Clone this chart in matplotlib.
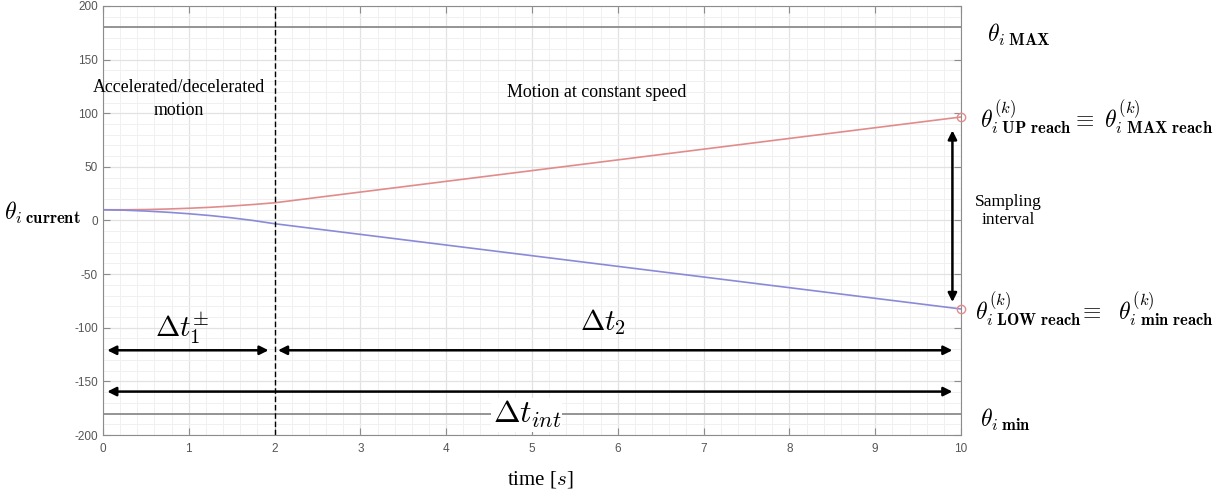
import numpy as np
import matplotlib.pyplot as plt
from matplotlib.ticker import MultipleLocator

plt.rcParams['mathtext.fontset'] = 'cm'
plt.rcParams['axes.unicode_minus'] = False

# joint trajectories (time in s, angle in deg)
t_pts = [0, 0.25, 0.5, 0.75, 1.0, 1.25, 1.5, 1.75, 2.0, 10.0]
theta_up = [10, 10.0, 10.2, 10.7, 11.4, 12.3, 13.5, 14.9, 16.5, 96.5]
theta_low = [10, 9.6, 8.8, 7.7, 6.3, 4.6, 2.5, 0.0, -3.0, -82.5]

theta_max = 180
theta_min = -180
t_switch = 2
t_end = 10

fig = plt.figure(figsize=(12.14, 4.97), dpi=100)
ax = fig.add_axes([0.0848, 0.1247, 0.7068, 0.8633])

ax.plot(t_pts, theta_up, color='#e08c8c', lw=1.2)
ax.plot(t_pts, theta_low, color='#8a8ad8', lw=1.2)
ax.plot([t_end, t_end], [theta_up[-1], theta_low[-1]], 'o', ms=6,
        mfc='none', mec='#e08c8c', mew=1.0, clip_on=False, zorder=5)

ax.axhline(theta_max, color='#8c8c8c', lw=1.3)
ax.axhline(theta_min, color='#8c8c8c', lw=1.3)
ax.axvline(t_switch, color='black', lw=1.0, ls=(0, (4, 2)))

ax.set_xlim(0, 10)
ax.set_ylim(-200, 200)
ax.xaxis.set_major_locator(MultipleLocator(1))
ax.xaxis.set_minor_locator(MultipleLocator(0.2))
ax.yaxis.set_major_locator(MultipleLocator(50))
ax.yaxis.set_minor_locator(MultipleLocator(10))
ax.grid(which='major', color='#e2e2e2', lw=0.9)
ax.grid(which='minor', color='#f0f0f0', lw=0.7)
ax.set_axisbelow(True)
ax.tick_params(which='major', direction='in', length=5, color='#8c8c8c',
               top=True, right=True, labelsize=8.5, labelcolor='#555555')
ax.tick_params(which='minor', length=0)
for lab in ax.get_xticklabels() + ax.get_yticklabels():
    lab.set_family('Liberation Sans')
for s in ax.spines.values():
    s.set_color('#8c8c8c')
ax.tick_params(axis='x', pad=6)

# interval arrows
arw = dict(arrowstyle='<|-|>', color='black', lw=1.8, mutation_scale=13,
           shrinkA=0, shrinkB=0)
ax.annotate('', xy=(0.05, -121), xytext=(1.93, -121), arrowprops=arw)
ax.annotate('', xy=(2.04, -121), xytext=(9.9, -121), arrowprops=arw)
ax.annotate('', xy=(0.05, -159.5), xytext=(9.9, -159.5), arrowprops=arw)
ax.annotate('', xy=(9.9, 84), xytext=(9.9, -76), arrowprops=arw,
            annotation_clip=False)

serif = 'Liberation Serif'
ax.text(0.88, 124, 'Accelerated/decelerated', ha='center', va='center',
        family=serif, fontsize=12.9)
ax.text(0.88, 103, 'motion', ha='center', va='center',
        family=serif, fontsize=12.9)
ax.text(5.76, 119, 'Motion at constant speed', ha='center', va='center',
        family=serif, fontsize=12.9)
ax.text(0.93, -100, r'$\Delta t_1^{\pm}$', ha='center', va='center', fontsize=21)
ax.text(5.83, -95, r'$\Delta t_2$', ha='center', va='center', fontsize=21)
ax.text(4.94, -181, r'$\Delta t_{int}$', ha='center', va='center', fontsize=23,
        bbox=dict(facecolor='white', edgecolor='none', pad=1))

# labels on the right of the axes
ax.text(10.3, 173, r'$\theta_{i\ \mathbf{MAX}}$', ha='left', va='center',
        fontsize=17, clip_on=False)
ax.text(10.22, 96, r'$\theta_{i\ \mathbf{UP\ reach}}^{(k)} \equiv\ \theta_{i\ \mathbf{MAX\ reach}}^{(k)}$',
        ha='left', va='center', fontsize=17, clip_on=False)
ax.text(10.55, 9, 'Sampling\ninterval', ha='center', va='center',
        family=serif, fontsize=12.5, linespacing=1.2, clip_on=False)
ax.text(10.16, -83, r'$\theta_{i\ \mathbf{LOW\ reach}}^{(k)}\!\equiv\ \ \theta_{i\ \mathbf{min\ reach}}^{(k)}$',
        ha='left', va='center', fontsize=17, clip_on=False)
ax.text(10.22, -186, r'$\theta_{i\ \mathbf{min}}$', ha='left', va='center',
        fontsize=17, clip_on=False)
ax.text(-1.15, 7, r'$\theta_{i\ \mathbf{current}}$', ha='left', va='center',
        fontsize=17, clip_on=False)

fig.text(540 / 1214, 1 - 480 / 497, 'time [$s$]', ha='center', va='center',
         family=serif, fontsize=15)

fig.savefig('out.png', dpi=100)
